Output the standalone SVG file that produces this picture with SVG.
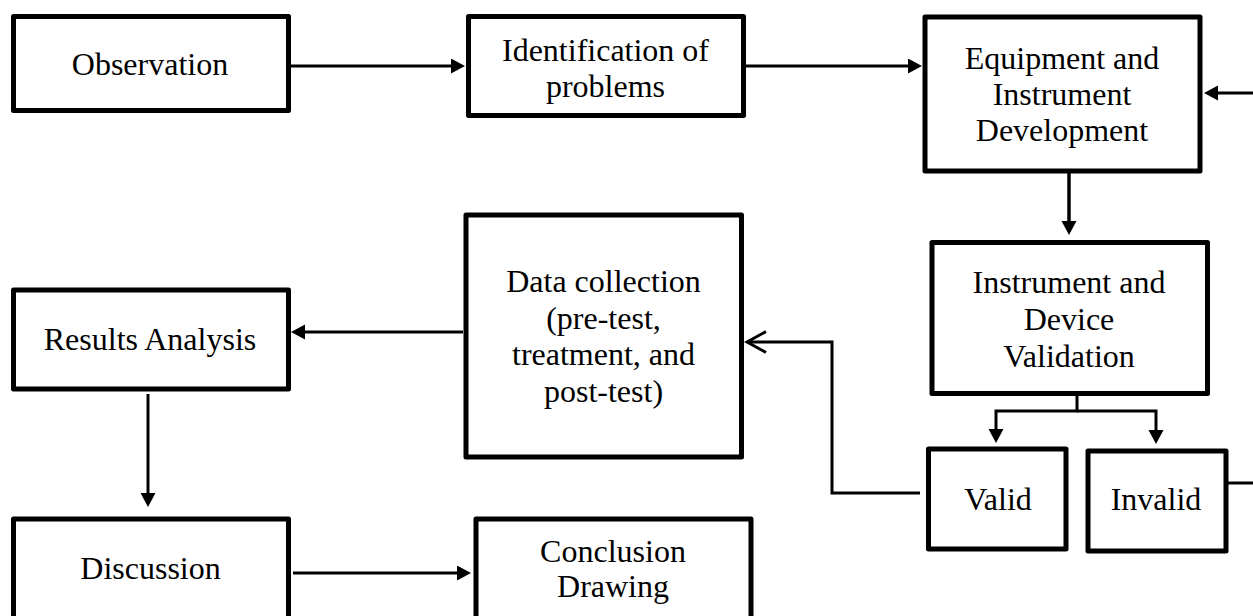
<svg xmlns="http://www.w3.org/2000/svg" width="1253" height="616" viewBox="0 0 1253 616">
<style>
.box{fill:#fff;stroke:#000;stroke-width:5;stroke-linejoin:round}
.t{font-family:"Liberation Serif","Times New Roman",serif;font-size:32px;fill:#000;text-anchor:middle}
.c{fill:none;stroke:#000;stroke-width:3}
</style>
<defs>
<marker id="ah" markerUnits="userSpaceOnUse" markerWidth="16" markerHeight="17" refX="4" refY="7.5" orient="auto" viewBox="0 0 16 17">
<path d="M0,0 L14,7.5 L0,15 z" fill="#000"/>
</marker>
<marker id="open" markerUnits="userSpaceOnUse" markerWidth="24" markerHeight="26" refX="21" refY="12" orient="auto" viewBox="0 0 24 26">
<path d="M2,1.5 L21,12 L2,22.5" fill="none" stroke="#000" stroke-width="3"/>
</marker>
</defs>
<rect width="1253" height="616" fill="#fff"/>
<g id="connectors">
<line class="c" x1="291" y1="66" x2="455" y2="66" marker-end="url(#ah)"/>
<line class="c" x1="746" y1="66" x2="912" y2="66" marker-end="url(#ah)"/>
<line class="c" x1="1253" y1="93" x2="1214" y2="93" marker-end="url(#ah)"/>
<line class="c" x1="1069" y1="173" x2="1069" y2="225" marker-end="url(#ah)" style="stroke-width:3.5"/>
<polyline class="c" points="1077,396 1077,411 996,411 996,433" marker-end="url(#ah)"/>
<polyline class="c" points="1077,411 1156,411 1156,434" marker-end="url(#ah)"/>
<polyline class="c" points="920,493 832,493 832,342 747,342" marker-end="url(#open)"/>
<line class="c" x1="1228" y1="483" x2="1253" y2="483"/>
<line class="c" x1="463" y1="332" x2="301" y2="332" marker-end="url(#ah)"/>
<line class="c" x1="148" y1="394" x2="148" y2="497" marker-end="url(#ah)"/>
<line class="c" x1="293" y1="573" x2="461" y2="573" marker-end="url(#ah)"/>
</g>
<g id="observation">
<rect class="box" x="13.5" y="16.5" width="275" height="94"/>
<text class="t" x="150" y="75">Observation</text>
</g>
<g id="identification">
<rect class="box" x="468.5" y="16.5" width="275" height="99"/>
<text class="t" x="605.5" y="61">Identification of</text>
<text class="t" x="605.5" y="97">problems</text>
</g>
<g id="equipment">
<rect class="box" x="925" y="17" width="275" height="154"/>
<text class="t" x="1062" y="69">Equipment and</text>
<text class="t" x="1062" y="105">Instrument</text>
<text class="t" x="1062" y="141">Development</text>
</g>
<g id="validation">
<rect class="box" x="932" y="242.5" width="275.5" height="151"/>
<text class="t" x="1069" y="293">Instrument and</text>
<text class="t" x="1069" y="330">Device</text>
<text class="t" x="1069" y="367">Validation</text>
</g>
<g id="valid">
<rect class="box" x="928.5" y="449" width="137.5" height="100"/>
<text class="t" x="998" y="510">Valid</text>
</g>
<g id="invalid">
<rect class="box" x="1088" y="451" width="138" height="100"/>
<text class="t" x="1156" y="510">Invalid</text>
</g>
<g id="data-collection">
<rect class="box" x="466" y="215" width="275.5" height="242"/>
<text class="t" x="603.5" y="292">Data collection</text>
<text class="t" x="603.5" y="328.5">(pre-test,</text>
<text class="t" x="603.5" y="365">treatment, and</text>
<text class="t" x="603.5" y="401.5">post-test)</text>
</g>
<g id="results-analysis">
<rect class="box" x="13.5" y="290" width="275" height="99"/>
<text class="t" x="150" y="350">Results Analysis</text>
</g>
<g id="discussion">
<rect class="box" x="13.5" y="519" width="275" height="120"/>
<text class="t" x="150.5" y="579">Discussion</text>
</g>
<g id="conclusion">
<rect class="box" x="476" y="519" width="275" height="120"/>
<text class="t" x="613" y="562">Conclusion</text>
<text class="t" x="613" y="597">Drawing</text>
</g>
</svg>
